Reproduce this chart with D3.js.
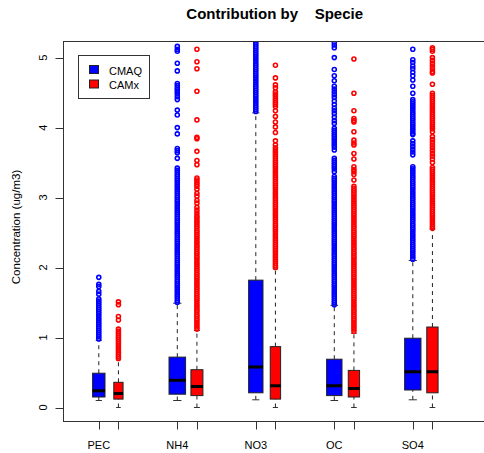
<!DOCTYPE html>
<html>
<head>
<meta charset="utf-8">
<script src="https://cdn.jsdelivr.net/npm/d3@7"></script>
<style>
body { margin: 0; background: #fff; }
text { font-family: "Liberation Sans", Arial, sans-serif; fill: #000; }
</style>
</head>
<body>
<script>
// species on the x axis
var species = ["PEC", "NH4", "NO3", "OC", "SO4"];
var models = ["CMAQ", "CAMx"];
var modelColors = ["#0000ff", "#ff0000"];
var yTicks = [0, 1, 2, 3, 4, 5];

// box stats: lower whisker, q1, median, q3, upper whisker
var cmaqStats = [
	[0.10, 0.15, 0.24, 0.49, 0.96],
	[0.10, 0.19, 0.39, 0.72, 1.49],
	[0.11, 0.21, 0.58, 1.82, 4.21],
	[0.10, 0.17, 0.31, 0.69, 1.46],
	[0.11, 0.25, 0.51, 0.99, 2.10]
];
var camxStats = [
	[0.00, 0.12, 0.20, 0.36, 0.68],
	[0.00, 0.17, 0.30, 0.54, 1.10],
	[0.00, 0.12, 0.31, 0.87, 1.98],
	[0.00, 0.15, 0.27, 0.53, 1.06],
	[0.00, 0.21, 0.51, 1.15, 2.55]
];
// relative box widths (varwidth, by sample size)
var cmaqWidth = [0.158, 0.211, 0.183, 0.196, 0.208];
var camxWidth = [0.118, 0.153, 0.132, 0.144, 0.144];

// outliers
var cmaqOut = [
	[1.86,1.76,1.73,1.66,1.62,1.55,1.52,1.49,1.46,1.43,1.40,1.37,1.34,1.31,1.28,1.25,1.22,1.19,1.16,1.13,1.10,1.07,1.04,1.01,0.98],
	[5.16,5.12,5.09,4.92,4.81,4.63,4.60,4.57,4.54,4.51,4.48,4.44,4.40,4.25,4.18,4.00,3.91,3.70,3.67,3.64,3.56,3.42,3.39,3.36,3.33,3.30,3.27,3.24,3.21,3.18,
	 3.15,3.12,3.09,3.06,3.03,3.00,2.97,2.94,2.91,2.88,2.85,2.82,2.79,2.76,2.73,2.70,2.67,2.64,2.61,2.58,2.55,2.52,2.49,2.46,2.43,2.40,2.37,2.34,2.31,2.28,
	 2.25,2.22,2.19,2.16,2.13,2.10,2.07,2.04,2.01,1.98,1.95,1.92,1.89,1.86,1.83,1.80,1.77,1.74,1.71,1.68,1.65,1.62,1.59,1.56,1.53,1.50],
	[5.22,5.19,5.16,5.13,5.10,5.07,5.04,5.01,4.98,4.95,4.92,4.89,4.86,4.83,4.80,4.77,4.74,4.71,4.68,4.65,4.62,4.59,4.56,4.53,4.50,4.47,4.44,4.41,4.38,4.35,
	 4.32,4.29,4.26,4.23],
	[5.22,5.18,5.14,5.00,4.83,4.74,4.67,4.59,4.55,4.51,4.47,4.43,4.38,4.33,4.28,4.24,4.20,4.15,4.10,4.06,3.99,3.96,3.93,3.90,3.87,3.84,3.81,3.78,3.75,3.72,
	 3.68,3.56,3.53,3.50,3.47,3.44,3.41,3.37,3.30,3.27,3.24,3.21,3.18,3.15,3.12,3.09,3.06,3.03,3.00,2.97,2.94,2.91,2.88,2.85,2.82,2.79,2.76,2.73,2.70,2.67,
	 2.64,2.61,2.58,2.55,2.52,2.49,2.46,2.43,2.40,2.37,2.34,2.31,2.28,2.25,2.22,2.19,2.16,2.13,2.10,2.07,2.04,2.01,1.98,1.95,1.92,1.89,1.86,1.83,1.80,1.77,
	 1.74,1.71,1.68,1.65,1.62,1.59,1.56,1.53,1.50,1.47],
	[5.12,4.97,4.93,4.88,4.84,4.79,4.74,4.68,4.59,4.49,4.40,4.37,4.34,4.31,4.28,4.25,4.22,4.19,4.16,4.13,4.10,4.07,4.04,4.01,3.98,3.95,3.92,3.90,3.81,3.77,
	 3.73,3.69,3.65,3.61,3.44,3.41,3.38,3.35,3.32,3.29,3.26,3.23,3.20,3.17,3.14,3.11,3.08,3.05,3.02,2.99,2.96,2.93,2.90,2.87,2.84,2.81,2.78,2.75,2.72,2.69,
	 2.66,2.63,2.60,2.57,2.54,2.51,2.48,2.45,2.42,2.39,2.36,2.33,2.30,2.27,2.24,2.21,2.18,2.15,2.12]
];
var camxOut = [
	[1.51,1.47,1.30,1.25,1.12,1.09,1.06,1.03,1.00,0.97,0.94,0.91,0.88,0.85,0.82,0.79,0.76,0.73,0.70],
	[5.12,4.94,4.84,4.52,4.11,3.86,3.84,3.66,3.53,3.47,3.28,3.25,3.22,3.19,3.16,3.12,3.06,3.02,2.96,2.92,2.86,2.82,2.78,
	 2.74,2.71,2.68,2.65,2.62,2.59,2.56,2.53,2.50,2.47,2.44,2.41,2.38,2.35,2.32,2.29,2.26,2.23,2.20,2.17,2.14,2.11,2.08,2.05,2.02,1.99,1.96,1.93,1.90,
	 1.87,1.84,1.81,1.78,1.75,1.72,1.69,1.66,1.63,1.60,1.57,1.54,1.51,1.48,1.45,1.42,1.39,1.36,1.33,1.30,1.27,1.24,1.21,1.18,1.15,1.12],
	[4.89,4.71,4.61,4.57,4.51,4.48,4.45,4.42,4.39,4.36,4.33,4.30,4.24,4.16,4.08,4.01,3.93,3.81,3.75,
	 3.71,3.68,3.65,3.62,3.59,3.56,3.53,3.50,3.47,3.44,3.41,3.38,3.35,3.32,3.29,3.26,3.23,3.20,3.17,3.14,3.11,3.08,3.05,3.02,2.99,2.96,2.93,2.90,2.87,
	 2.84,2.81,2.78,2.75,2.72,2.69,2.66,2.63,2.60,2.57,2.54,2.51,2.48,2.45,2.42,2.39,2.36,2.33,2.30,2.27,2.24,2.21,2.18,2.15,2.12,2.09,2.06,2.03,2.00],
	[4.98,4.49,4.24,4.13,4.10,4.08,3.94,3.82,3.78,3.75,3.63,3.55,3.44,3.40,3.37,3.33,3.25,
	 3.16,3.13,3.10,3.07,3.04,3.01,2.98,2.95,2.92,2.89,2.86,2.83,2.80,2.77,2.74,2.71,2.68,2.65,2.62,2.59,2.56,2.53,2.50,2.47,2.44,2.41,2.38,2.35,2.32,
	 2.29,2.26,2.23,2.20,2.17,2.14,2.11,2.08,2.05,2.02,1.99,1.96,1.93,1.90,1.87,1.84,1.81,1.78,1.75,1.72,1.69,1.66,1.63,1.60,1.57,1.54,1.51,1.48,1.45,
	 1.42,1.39,1.36,1.33,1.30,1.27,1.24,1.21,1.18,1.15,1.12,1.09],
	[5.14,5.12,5.09,5.00,4.96,4.92,4.88,4.84,4.80,4.78,4.62,4.49,4.46,4.43,4.40,4.37,4.34,4.31,4.28,4.25,4.22,4.19,4.16,4.13,4.10,4.07,4.04,4.01,3.98,3.94,
	 3.87,3.83,3.79,3.75,3.71,3.67,3.63,3.59,3.55,3.50,3.43,3.40,3.37,3.34,3.31,3.28,3.25,3.22,3.19,3.16,3.13,3.10,3.07,3.04,3.01,2.98,2.95,2.92,2.89,2.86,
	 2.83,2.80,2.77,2.74,2.71,2.68,2.65,2.62,2.59,2.56]
];

var W = 484, H = 453;
var plot = {left: 63.5, top: 41.5, right: 487, bottom: 421.5};

var svg = d3.select("body").append("svg")
	.attr("width", W)
	.attr("height", H);

// species index 1..5, CAMx drawn at +0.25
var x = d3.scaleLinear().domain([1, 5]).range([98.8, 412.8]);
var y = d3.scaleLinear().domain([-0.2, 5.23]).range([plot.bottom, plot.top]);
var offset = [0, 0.25];

svg.append("clipPath").attr("id", "clip")
	.append("rect")
	.attr("x", plot.left).attr("y", plot.top)
	.attr("width", plot.right - plot.left).attr("height", plot.bottom - plot.top);

// flatten into one list of boxes
var boxes = [];
species.forEach(function(s, i){
	boxes.push({name: s, pos: i + 1 + offset[0], stats: cmaqStats[i], w: cmaqWidth[i], out: cmaqOut[i], color: modelColors[0]});
	boxes.push({name: "", pos: i + 1 + offset[1], stats: camxStats[i], w: camxWidth[i], out: camxOut[i], color: modelColors[1]});
});

function halfW(b){
	return (x(b.pos + b.w / 2) - x(b.pos - b.w / 2)) / 2;
}

var g = svg.append("g").attr("clip-path", "url(#clip)");

var bg = g.selectAll(".box")
	.data(boxes)
	.enter().append("g")
	.attr("class", "box");

// whiskers
bg.append("line")
	.attr("x1", function(b){ return x(b.pos); })
	.attr("x2", function(b){ return x(b.pos); })
	.attr("y1", function(b){ return y(b.stats[0]); })
	.attr("y2", function(b){ return y(b.stats[1]); })
	.style("stroke", "#222").style("stroke-dasharray", "4,4");
bg.append("line")
	.attr("x1", function(b){ return x(b.pos); })
	.attr("x2", function(b){ return x(b.pos); })
	.attr("y1", function(b){ return y(b.stats[3]); })
	.attr("y2", function(b){ return y(b.stats[4]); })
	.style("stroke", "#222").style("stroke-dasharray", "4,4");

// staples
[0, 4].forEach(function(k){
	bg.append("line")
		.attr("x1", function(b){ return x(b.pos) - halfW(b) / 2; })
		.attr("x2", function(b){ return x(b.pos) + halfW(b) / 2; })
		.attr("y1", function(b){ return y(b.stats[k]); })
		.attr("y2", function(b){ return y(b.stats[k]); })
		.style("stroke", "#333");
});

// boxes
bg.append("rect")
	.attr("x", function(b){ return x(b.pos) - halfW(b); })
	.attr("width", function(b){ return 2 * halfW(b); })
	.attr("y", function(b){ return y(b.stats[3]); })
	.attr("height", function(b){ return y(b.stats[1]) - y(b.stats[3]); })
	.style("fill", function(b){ return b.color; })
	.style("stroke", "#222");

// medians
bg.append("line")
	.attr("x1", function(b){ return x(b.pos) - halfW(b); })
	.attr("x2", function(b){ return x(b.pos) + halfW(b); })
	.attr("y1", function(b){ return y(b.stats[2]); })
	.attr("y2", function(b){ return y(b.stats[2]); })
	.style("stroke", "#000").style("stroke-width", 3);

// outliers
bg.each(function(b){
	d3.select(this).selectAll("circle")
		.data(b.out)
		.enter().append("circle")
		.attr("cx", x(b.pos))
		.attr("cy", function(v){ return y(v); })
		.attr("r", 2)
		.style("fill", "none")
		.style("stroke", b.color)
		.style("stroke-width", 1.6);
});

// frame
svg.append("rect")
	.attr("x", plot.left).attr("y", plot.top)
	.attr("width", plot.right - plot.left).attr("height", plot.bottom - plot.top)
	.style("fill", "none").style("stroke", "#333");

// y axis
var yAxis = svg.append("g");
yAxis.selectAll(".ytick")
	.data(yTicks)
	.enter().append("line")
	.attr("x1", plot.left - 8).attr("x2", plot.left)
	.attr("y1", function(v){ return Math.round(y(v)) + 0.5; })
	.attr("y2", function(v){ return Math.round(y(v)) + 0.5; })
	.style("stroke", "#333");
yAxis.selectAll(".ylab")
	.data(yTicks)
	.enter().append("text")
	.attr("transform", function(v){ return "translate(46.5," + y(v) + ") rotate(-90)"; })
	.attr("text-anchor", "middle")
	.style("font-size", "11px")
	.text(function(v){ return v; });

// x axis ticks under every box, labels under CMAQ
svg.selectAll(".xtick")
	.data(boxes)
	.enter().append("line")
	.attr("x1", function(b){ return Math.round(x(b.pos)) + 0.5; })
	.attr("x2", function(b){ return Math.round(x(b.pos)) + 0.5; })
	.attr("y1", plot.bottom).attr("y2", plot.bottom + 8)
	.style("stroke", "#333");
svg.selectAll(".xlab")
	.data(boxes.filter(function(b){ return b.name; }))
	.enter().append("text")
	.attr("x", function(b){ return x(b.pos); })
	.attr("y", 449)
	.attr("text-anchor", "middle")
	.style("font-size", "11px")
	.text(function(b){ return b.name; });

// titles
svg.append("text")
	.attr("x", 274.7).attr("y", 18.5)
	.attr("text-anchor", "middle")
	.style("font-size", "15px").style("font-weight", "bold")
	.style("white-space", "pre")
	.text("Contribution by    Specie");
svg.append("text")
	.attr("transform", "translate(20,227) rotate(-90)")
	.attr("text-anchor", "middle")
	.style("font-size", "11.5px")
	.text("Concentration (ug/m3)");

// legend
var leg = svg.append("g");
leg.append("rect")
	.attr("x", 78.5).attr("y", 55.5).attr("width", 71).attr("height", 43)
	.style("fill", "#fff").style("stroke", "#333");
models.forEach(function(m, i){
	leg.append("rect")
		.attr("x", 89.5).attr("y", 65.5 + i * 14.5).attr("width", 9).attr("height", 8)
		.style("fill", modelColors[i]).style("stroke", "#222");
	leg.append("text")
		.attr("x", 109).attr("y", 74.5 + i * 14.5)
		.style("font-size", "11px")
		.text(m);
});
</script>
</body>
</html>
